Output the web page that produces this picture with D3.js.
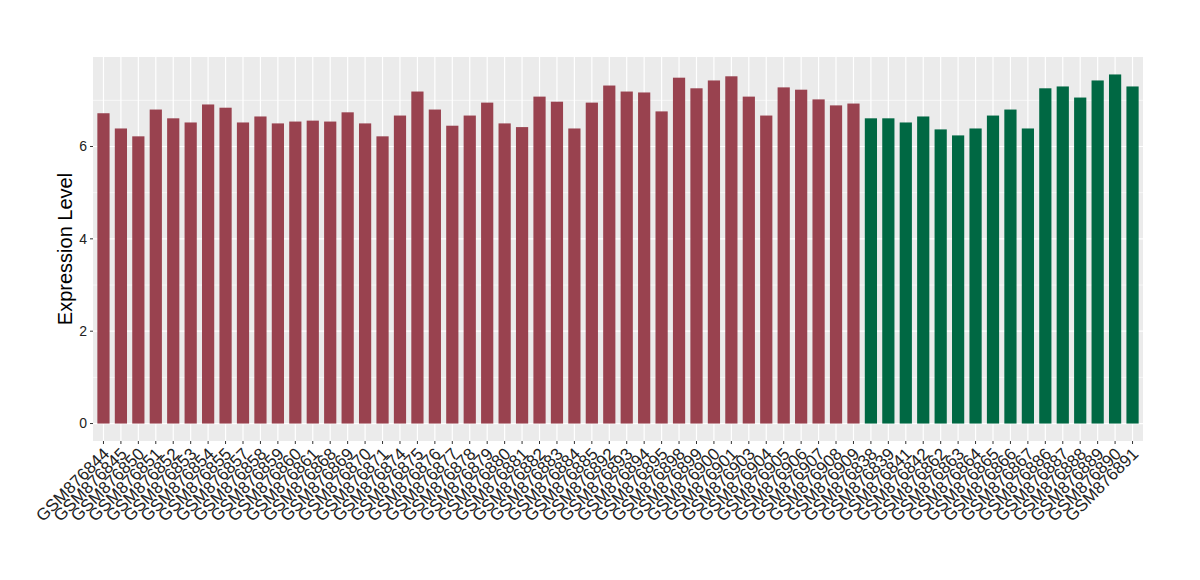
<!DOCTYPE html>
<html><head><meta charset="utf-8">
<script src="https://cdn.jsdelivr.net/npm/d3@7"></script>
<style>body{margin:0;background:#fff}svg{display:block}</style>
</head><body>
<svg id="c" width="1200" height="580"></svg>
<script>
const redSamples = ["GSM876844","GSM876845","GSM876850","GSM876851","GSM876852","GSM876853","GSM876854","GSM876855","GSM876857","GSM876858","GSM876859","GSM876860","GSM876861","GSM876868","GSM876869","GSM876870","GSM876871","GSM876874","GSM876875","GSM876876","GSM876877","GSM876878","GSM876879","GSM876880","GSM876881","GSM876882","GSM876883","GSM876884","GSM876885","GSM876892","GSM876893","GSM876894","GSM876895","GSM876898","GSM876899","GSM876900","GSM876901","GSM876903","GSM876904","GSM876905","GSM876906","GSM876907","GSM876908","GSM876909"];
const redValues = [6.72,6.39,6.22,6.80,6.61,6.52,6.91,6.84,6.52,6.65,6.50,6.54,6.56,6.54,6.74,6.50,6.22,6.67,7.19,6.80,6.45,6.67,6.95,6.50,6.42,7.08,6.97,6.39,6.95,7.32,7.19,7.17,6.76,7.49,7.26,7.43,7.52,7.08,6.67,7.28,7.23,7.02,6.89,6.93];
const greenSamples = ["GSM876838","GSM876839","GSM876841","GSM876842","GSM876862","GSM876863","GSM876864","GSM876865","GSM876866","GSM876867","GSM876886","GSM876887","GSM876888","GSM876889","GSM876890","GSM876891"];
const greenValues = [6.61,6.61,6.52,6.65,6.37,6.24,6.39,6.67,6.80,6.39,7.26,7.30,7.06,7.43,7.56,7.30];
const yTicks = [0,2,4,6];
const colors = {red:"#99424F", green:"#006843"};

const data = redSamples.map((s,i)=>({s, v:redValues[i], c:colors.red}))
  .concat(greenSamples.map((s,i)=>({s, v:greenValues[i], c:colors.green})));

const svg = d3.select("#c");
const L=93, R=1143, T=57, B=441;
const n = data.length;
const x = d3.scaleLinear().domain([-0.6, n-1+0.6]).range([L,R]);
const maxV = d3.max(data,d=>d.v);
const y = d3.scaleLinear().domain([-0.05*maxV, maxV*1.05]).range([B,T]);
const bw = (x(1)-x(0))*0.7;

svg.append("rect").attr("x",L).attr("y",T).attr("width",R-L).attr("height",B-T).attr("fill","#EBEBEB");
const g = svg.append("g");
[1,3,5,7].forEach(v=>g.append("line").attr("x1",L).attr("x2",R).attr("y1",y(v)).attr("y2",y(v)).attr("stroke","#fff").attr("stroke-width",0.6));
yTicks.forEach(v=>g.append("line").attr("x1",L).attr("x2",R).attr("y1",y(v)).attr("y2",y(v)).attr("stroke","#fff").attr("stroke-width",1.2));
data.forEach((d,i)=>g.append("line").attr("x1",x(i)).attr("x2",x(i)).attr("y1",T).attr("y2",B).attr("stroke","#fff").attr("stroke-width",1.2));

g.selectAll("rect.bar").data(data).join("rect").attr("class","bar")
  .attr("x",(d,i)=>x(i)-bw/2).attr("width",bw)
  .attr("y",d=>y(d.v)).attr("height",d=>y(0)-y(d.v)).attr("fill",d=>d.c);

// y axis
const ya = svg.append("g");
yTicks.forEach(v=>{
  ya.append("line").attr("x1",L-3).attr("x2",L).attr("y1",y(v)).attr("y2",y(v)).attr("stroke","#333").attr("stroke-width",1);
  ya.append("text").attr("x",L-6).attr("y",y(v)).attr("dy","0.35em").attr("text-anchor","end")
    .attr("font-family","Liberation Sans, Arial, sans-serif").attr("font-size",14).attr("fill","#222").text(v);
});
svg.append("text").attr("transform",`translate(72,${(T+B)/2}) rotate(-90)`).attr("text-anchor","middle")
  .attr("font-family","Liberation Sans, Arial, sans-serif").attr("font-size",20).attr("fill","#000").text("Expression Level");

// x axis
const xa = svg.append("g");
data.forEach((d,i)=>{
  xa.append("line").attr("x1",x(i)).attr("x2",x(i)).attr("y1",B).attr("y2",B+3).attr("stroke","#333").attr("stroke-width",1);
  xa.append("text").attr("transform",`translate(${x(i)+7},${B+14}) rotate(-45)`).attr("text-anchor","end")
    .attr("font-family","Liberation Sans, Arial, sans-serif").attr("font-size",17).attr("fill","#222").text(d.s);
});
</script>
</body></html>
